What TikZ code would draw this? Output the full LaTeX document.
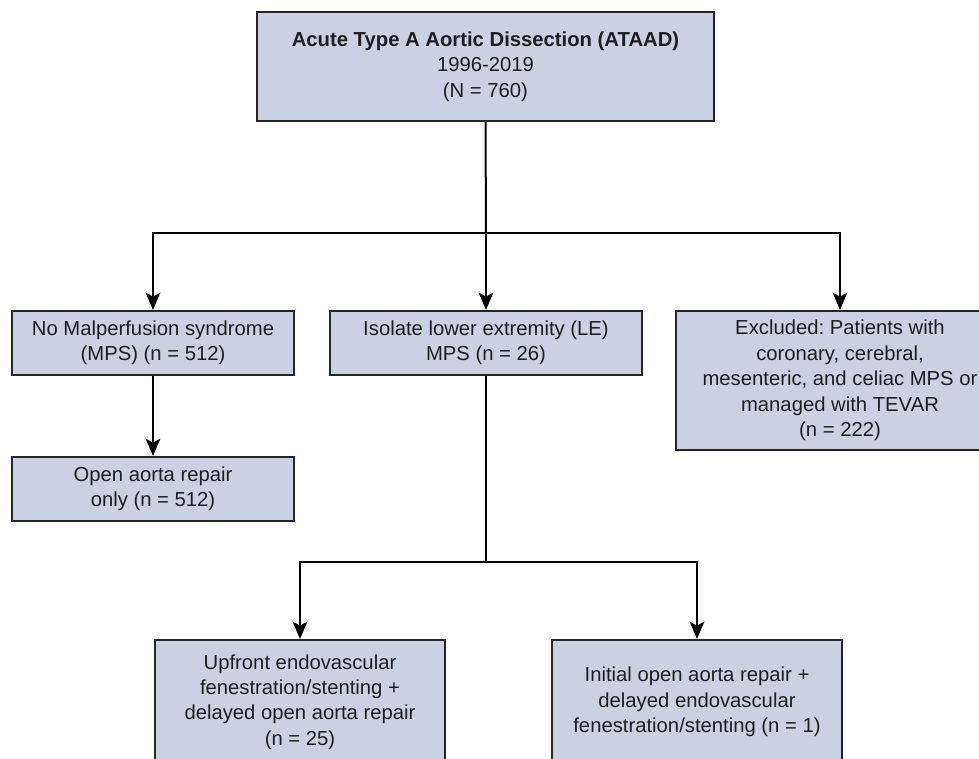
\documentclass[tikz,border=0pt]{standalone}
\usepackage{fontspec}
\setmainfont{Liberation Sans}
\usetikzlibrary{arrows.meta}
\frenchspacing

\definecolor{boxfill}{RGB}{201,209,227}
\definecolor{boxline}{RGB}{38,38,38}
\definecolor{boxtext}{RGB}{30,30,30}

\tikzset{every picture/.style={line width=1.5pt}}
\tikzset{
	flowbox/.style={draw=boxline, fill=boxfill, align=center, inner sep=0pt,
		text=boxtext, font=\fontsize{15.2}{19.1}\selectfont},
	flowarrow/.style={-{Stealth[length=13pt,width=11pt,inset=3pt]}}}

\begin{document}
\begin{tikzpicture}[x=0.75pt,y=0.75pt,yscale=-1,xscale=1]
	\useasboundingbox (0,0) rectangle (979,759);
	\clip (0,0) rectangle (979,759);

	%Shape: Rectangle [id:ataad]
	\node [flowbox, minimum width=342.75pt, minimum height=81.75pt] (ataad) at (485.5,66.5)
		{\textbf{Acute Type A Aortic Dissection (ATAAD)}\\1996-2019\\(N = 760)};
	%Shape: Rectangle [id:nomps]
	\node [flowbox, minimum width=211.5pt, minimum height=48pt] (nomps) at (153,343)
		{No Malperfusion syndrome\\(MPS) (n = 512)};
	%Shape: Rectangle [id:lemps]
	\node [flowbox, minimum width=234pt, minimum height=48pt] (lemps) at (486,343)
		{Isolate lower extremity (LE)\\MPS (n = 26)};
	%Shape: Rectangle [id:excl]
	\node [flowbox, minimum width=246pt, minimum height=104.25pt] (excl) at (840,380.5)
		{Excluded: Patients with\\coronary, cerebral,\\mesenteric, and celiac MPS or\\managed with TEVAR\\(n = 222)};
	%Shape: Rectangle [id:openonly]
	\node [flowbox, minimum width=211.5pt, minimum height=48pt] (openonly) at (153,489)
		{Open aorta repair\\only (n = 512)};
	%Shape: Rectangle [id:upfront]
	\node [flowbox, minimum width=217.5pt, minimum height=93pt] (upfront) at (300,702)
		{Upfront endovascular\\fenestration/stenting +\\delayed open aorta repair\\(n = 25)};
	%Shape: Rectangle [id:initial]
	\node [flowbox, minimum width=217.5pt, minimum height=93pt] (initial) at (697,702)
		{Initial open aorta repair +\\delayed endovascular\\fenestration/stenting (n = 1)};

	% Split points
	\coordinate (split1) at (486,233);
	\coordinate (split2) at (486,562);

	%Straight Lines
	\draw (ataad.south) -- (split1);
	\draw [flowarrow] (split1) -| (nomps.north);
	\draw [flowarrow] (split1) -- (lemps.north);
	\draw [flowarrow] (split1) -| (excl.north);
	\draw [flowarrow] (nomps.south) -- (openonly.north);
	\draw (lemps.south) -- (split2);
	\draw [flowarrow] (split2) -| (upfront.north);
	\draw [flowarrow] (split2) -| (initial.north);

\end{tikzpicture}
\end{document}
